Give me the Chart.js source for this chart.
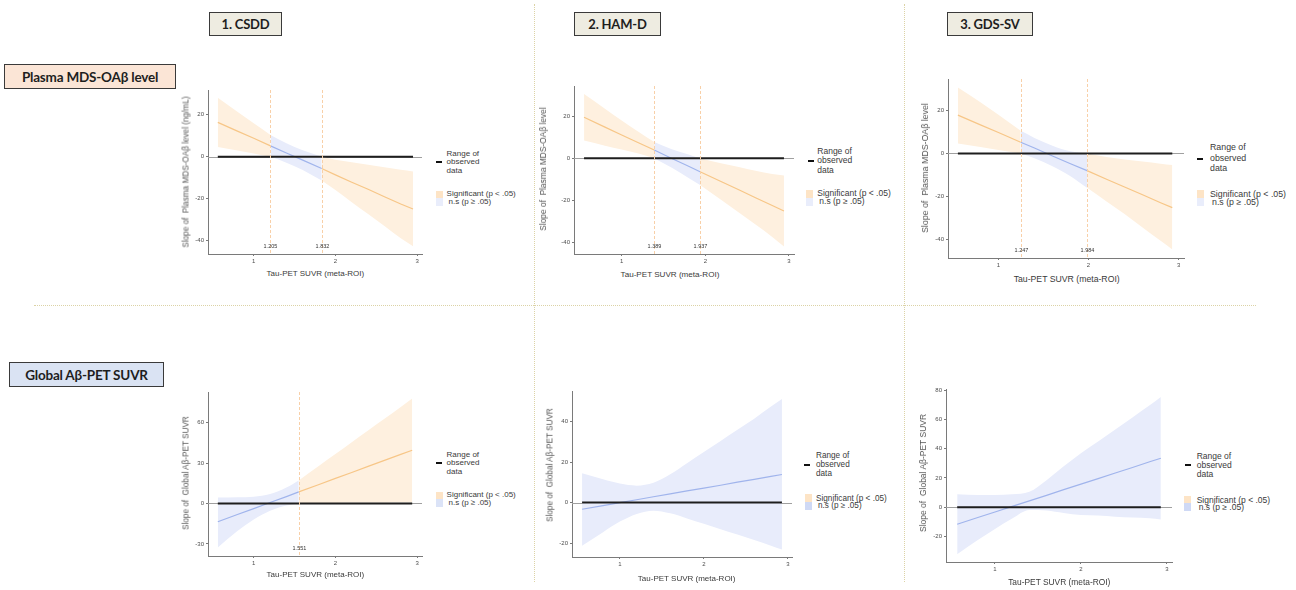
<!DOCTYPE html>
<html>
<head>
<meta charset="utf-8">
<title>Johnson-Neyman plots</title>
<script src="https://cdn.jsdelivr.net/npm/chart.js@4.4.1/dist/chart.umd.min.js"></script>
<style>
  body { margin: 0; background: #fff; }
  #page { position: relative; width: 1296px; height: 590px; overflow: hidden; font-family: "Liberation Sans", Arial, sans-serif; color: #333; }
  #page canvas { position: absolute; }
  .box { position: absolute; box-sizing: border-box; border: 1.5px solid #3a3a3a; display: flex; align-items: center; justify-content: center; font-family: Lato, "Open Sans", sans-serif; font-weight: 700; color: #1e1e1e; white-space: nowrap; letter-spacing: -0.2px; }
  .txt { position: absolute; white-space: nowrap; color: #3a3a3a; font-weight: 400; }
  .ytitle { color: #555; }
  .sep-v { position: absolute; width: 0; border-left: 1px dotted #dcd3a6; }
  .sep-h { position: absolute; height: 0; border-top: 1px dotted #dcd3a6; }
</style>
</head>
<body>
<div id="page">
  <div class="sep-v" style="left:534px;top:4px;height:578px"></div>
  <div class="sep-v" style="left:904px;top:4px;height:578px"></div>
  <div class="sep-h" style="left:34px;top:305px;width:1222px"></div>

  <div class="box" style="left:209px;top:12px;width:73px;height:24px;background:#eeece1;font-size:13px">1. CSDD</div>
  <div class="box" style="left:574px;top:12px;width:87px;height:24px;background:#eeece1;font-size:13px">2. HAM-D</div>
  <div class="box" style="left:947px;top:12px;width:86px;height:24px;background:#eeece1;font-size:13px">3. GDS-SV</div>
  <div class="box" style="left:4px;top:64px;width:172px;height:25px;background:#fbe5d6;font-size:13.5px">Plasma MDS-OAβ level</div>
  <div class="box" style="left:9px;top:362px;width:155px;height:25px;background:#dae3f3;font-size:13.5px">Global Aβ-PET SUVR</div>
</div>
<script>
// slopes (estimate, upper and lower 95% band) at a few tau values
const xTicks = [1, 2, 3];

// row 1: plasma MDS-OAb level
const mdsCsddTau   = [0.56, 0.8, 1.0, 1.205, 1.4, 1.6, 1.832, 2.0, 2.2, 2.4, 2.6, 2.8, 2.95];
const mdsCsddSlope = [16.4, 12.2, 8.8, 5.2, 1.8, -1.6, -5.6, -8.6, -12.1, -15.5, -19.0, -22.5, -24.9];
const mdsCsddUpper = [28.1, 21.4, 16.0, 10.4, 6.4, 3.1, 0, -1.4, -2.6, -3.8, -5.0, -6.2, -7.0];
const mdsCsddLower = [4.6, 3.0, 1.6, 0, -2.8, -6.3, -11.3, -15.8, -21.6, -27.2, -33.0, -38.8, -42.6];
const mdsCsddJN    = [1.205, 1.832];

const mdsHamdTau   = [0.55, 0.8, 1.0, 1.2, 1.389, 1.6, 1.8, 1.937, 2.2, 2.4, 2.6, 2.8, 2.94];
const mdsHamdSlope = [19.5, 14.8, 11.1, 7.4, 3.9, -0.1, -3.8, -6.4, -11.3, -15.0, -18.8, -22.5, -25.1];
const mdsHamdUpper = [30.6, 23.6, 18.0, 12.6, 7.7, 4.3, 1.8, 0, -2.5, -4.2, -6.0, -7.5, -8.2];
const mdsHamdLower = [8.4, 6.0, 4.2, 2.2, 0, -4.5, -9.4, -12.8, -20.1, -25.8, -31.6, -37.5, -42.0];
const mdsHamdJN    = [1.389, 1.937];

const mdsGdsTau    = [0.55, 0.8, 1.0, 1.247, 1.4, 1.6, 1.8, 1.984, 2.2, 2.4, 2.6, 2.8, 2.93];
const mdsGdsSlope  = [17.8, 13.3, 9.7, 5.2, 2.5, -1.2, -4.8, -8.0, -12.0, -15.6, -19.2, -22.9, -25.2];
const mdsGdsUpper  = [30.7, 23.8, 18.0, 10.5, 7.2, 3.6, 1.0, 0, -1.6, -2.8, -3.8, -4.8, -5.4];
const mdsGdsLower  = [4.6, 3.0, 1.6, 0, -2.2, -6.0, -10.6, -16.0, -22.3, -28.2, -34.4, -40.6, -44.6];
const mdsGdsJN     = [1.247, 1.984];

// row 2: global Ab-PET SUVR
const petCsddTau   = [0.56, 0.8, 1.0, 1.2, 1.4, 1.551, 1.8, 2.0, 2.2, 2.4, 2.6, 2.8, 2.94];
const petCsddSlope = [-13.6, -8.2, -3.8, 0.7, 5.1, 8.6, 14.1, 18.6, 23.0, 27.5, 32.0, 36.4, 39.5];
const petCsddUpper = [4.4, 4.6, 5.0, 7.0, 11.8, 17.0, 27.9, 36.6, 45.4, 54.1, 62.8, 71.6, 77.8];
const petCsddLower = [-32.6, -20.5, -12.0, -5.5, -1.6, 0, 0.3, 0.4, 0.5, 0.5, 0.6, 0.7, 0.7];
const petCsddJN    = [1.551];

const petHamdTau   = [0.55, 0.8, 1.0, 1.2, 1.4, 1.6, 1.8, 2.0, 2.2, 2.4, 2.6, 2.8, 2.93];
const petHamdSlope = [-3.3, -1.5, 0.0, 1.4, 2.9, 4.3, 5.8, 7.2, 8.6, 10.1, 11.5, 13.0, 13.9];
const petHamdUpper = [14.5, 11.5, 9.4, 8.4, 9.8, 14.0, 19.5, 25.0, 30.5, 36.0, 41.5, 47.5, 51.2];
const petHamdLower = [-21.3, -14.6, -9.4, -5.6, -4.0, -5.3, -7.8, -10.5, -13.2, -15.8, -18.5, -21.3, -23.2];
const petHamdJN    = [];

const petGdsTau    = [0.56, 0.8, 1.0, 1.2, 1.4, 1.6, 1.8, 2.0, 2.2, 2.4, 2.6, 2.8, 2.93];
const petGdsSlope  = [-11.7, -7.1, -3.3, 0.5, 4.3, 8.1, 12.0, 15.8, 19.6, 23.4, 27.2, 31.1, 33.5];
const petGdsUpper  = [8.9, 8.4, 8.3, 8.8, 10.5, 18.5, 28.0, 37.0, 45.0, 53.3, 61.5, 69.8, 75.5];
const petGdsLower  = [-32.3, -22.6, -14.9, -7.8, -1.9, -2.3, -4.0, -5.4, -5.8, -6.5, -7.1, -7.6, -8.5];
const petGdsJN     = [];

const SIG = { band: '#fef0df', line: '#f7c687' };
const NS = { band: '#e8ecfb', line: '#a0b4ec' };
const AXIS = '#7a7a7a';
const FONT = '"Liberation Sans", Arial, sans-serif';

// geometry of each plot area on the page: [left, top, right, bottom]
const panels = [
  { area: [208, 90, 422, 254], x: [0.44, 3.06], y: [-46.3, 31.8], yTicks: [-40, -20, 0, 20],
    tau: mdsCsddTau, slope: mdsCsddSlope, upper: mdsCsddUpper, lower: mdsCsddLower, jn: mdsCsddJN, sig: [true, false, true],
    leg: { dx: 435.6, dy: 162.3, tx: 446.6, ty: 154, lh: 8.5, fs: 8, sx: 435.6, sy: 194.7, ny: 202.3, ns: '#e9edfb' },
    xt: [315.4, 273.3, 8], yt: [186, 172, 8.2, 'Slope of&nbsp; Plasma MDS-OAβ level (ng/mL)'] },
  { area: [574, 86, 794, 254], x: [0.43, 3.06], y: [-45.6, 34.4], yTicks: [-40, -20, 0, 20],
    tau: mdsHamdTau, slope: mdsHamdSlope, upper: mdsHamdUpper, lower: mdsHamdLower, jn: mdsHamdJN, sig: [true, false, true],
    leg: { dx: 808.3, dy: 160.7, tx: 817.3, ty: 151.7, lh: 9.2, fs: 8.5, sx: 805.7, sy: 193.7, ny: 201.7, ns: '#e9edfb' },
    xt: [670, 274.3, 8.1], yt: [543.3, 169, 8.4, 'Slope of&nbsp; Plasma MDS-OAβ level'] },
  { area: [948, 79, 1184, 258], x: [0.44, 3.06], y: [-48.6, 34.6], yTicks: [-40, -20, 0, 20],
    tau: mdsGdsTau, slope: mdsGdsSlope, upper: mdsGdsUpper, lower: mdsGdsLower, jn: mdsGdsJN, sig: [true, false, true],
    leg: { dx: 1196.7, dy: 159.3, tx: 1210, ty: 147.7, lh: 10.5, fs: 8.8, sx: 1197, sy: 194.3, ny: 202, ns: '#e9edfb' },
    xt: [1066.7, 279.3, 8.7], yt: [925, 167.5, 8.8, 'Slope of&nbsp; Plasma MDS-OAβ level'] },
  { area: [208, 392, 422, 556], x: [0.44, 3.06], y: [-39, 82.7], yTicks: [-30, 0, 30, 60],
    tau: petCsddTau, slope: petCsddSlope, upper: petCsddUpper, lower: petCsddLower, jn: petCsddJN, sig: [false, true],
    leg: { dx: 435.6, dy: 463.3, tx: 446.6, ty: 455, lh: 8.5, fs: 8, sx: 435.6, sy: 495.7, ny: 503.3, ns: '#dbe3f7' },
    xt: [315.4, 574.3, 8], yt: [186, 473, 8.2, 'Slope of&nbsp; Global Aβ-PET SUVR'] },
  { area: [572, 391, 792, 557], x: [0.43, 3.05], y: [-26.9, 55.2], yTicks: [-20, 0, 20, 40],
    tau: petHamdTau, slope: petHamdSlope, upper: petHamdUpper, lower: petHamdLower, jn: petHamdJN, sig: [false],
    leg: { dx: 804, dy: 464.7, tx: 816, ty: 455.7, lh: 9, fs: 8.2, sx: 805.3, sy: 498, ny: 505.7, ns: '#cfd9f5' },
    xt: [686.7, 578.3, 8], yt: [550, 464.7, 8.2, 'Slope of&nbsp; Global Aβ-PET SUVR'] },
  { area: [946, 389, 1172, 562], x: [0.43, 3.06], y: [-37.6, 81], yTicks: [-20, 0, 20, 40, 60, 80],
    tau: petGdsTau, slope: petGdsSlope, upper: petGdsUpper, lower: petGdsLower, jn: petGdsJN, sig: [false],
    leg: { dx: 1185, dy: 465.3, tx: 1196.7, ty: 456.7, lh: 9, fs: 8.5, sx: 1184.3, sy: 500, ny: 507.3, ns: '#cfd9f5' },
    xt: [1059.3, 582.3, 8.4], yt: [923.3, 473, 8.5, 'Slope of&nbsp; Global Aβ-PET SUVR'] }
];

const page = document.getElementById('page');
const YW = 30, XH = 14, PT = 8, PR = 8;

function addDiv(html, css, cls) {
  const d = document.createElement('div');
  d.className = cls || 'txt';
  d.innerHTML = html;
  Object.assign(d.style, css);
  page.appendChild(d);
  return d;
}

// zero reference line, J-N cut points and their labels
const jnLines = {
  id: 'jnLines',
  beforeDatasetsDraw(chart) {
    const { ctx, chartArea: a, scales: { y } } = chart;
    const y0 = Math.round(y.getPixelForValue(0)) + 0.5;
    ctx.save();
    ctx.strokeStyle = '#a0a0a0';
    ctx.lineWidth = 1;
    ctx.beginPath(); ctx.moveTo(a.left, y0); ctx.lineTo(a.right, y0); ctx.stroke();
    ctx.restore();
  },
  afterDatasetsDraw(chart, args, opts) {
    const { ctx, chartArea: a, scales: { x } } = chart;
    ctx.save();
    ctx.strokeStyle = '#f8d0a8';
    ctx.lineWidth = 1;
    ctx.setLineDash([3, 2]);
    ctx.font = '5.5px ' + FONT;
    ctx.fillStyle = '#333';
    ctx.textAlign = 'center';
    ctx.textBaseline = 'middle';
    for (const v of opts.points) {
      const px = Math.round(x.getPixelForValue(v)) + 0.5;
      ctx.beginPath(); ctx.moveTo(px, a.top); ctx.lineTo(px, a.bottom); ctx.stroke();
      ctx.fillText(v.toFixed(3), px, a.bottom - 7.5);
    }
    ctx.restore();
  }
};

function buildDatasets(p) {
  const cuts = [0, ...p.jn.map(v => p.tau.indexOf(v)), p.tau.length - 1];
  const sets = [];
  for (let r = 0; r < cuts.length - 1; r++) {
    const idx = [];
    for (let i = cuts[r]; i <= cuts[r + 1]; i++) idx.push(i);
    const pts = arr => idx.map(i => ({ x: p.tau[i], y: arr[i] }));
    const col = p.sig[r] ? SIG : NS;
    sets.push({ data: pts(p.lower), borderColor: 'rgba(0,0,0,0)', borderWidth: 0, fill: false, order: 5, cubicInterpolationMode: 'monotone' });
    sets.push({ data: pts(p.upper), borderColor: 'rgba(0,0,0,0)', borderWidth: 0, fill: '-1', backgroundColor: col.band, order: 5, cubicInterpolationMode: 'monotone' });
    sets.push({ data: pts(p.slope), borderColor: col.line, borderWidth: 1.2, fill: false, order: 3 });
  }
  // range of observed data
  const last = p.tau.length - 1;
  sets.push({ data: [{ x: p.tau[0], y: 0 }, { x: p.tau[last], y: 0 }], borderColor: '#1e1e1e', borderWidth: 2, fill: false, order: 1 });
  return sets;
}

function axis(range, ticks, fit) {
  return {
    type: 'linear', min: range[0], max: range[1],
    afterBuildTicks: s => { s.ticks = ticks.map(v => ({ value: v })); },
    afterFit: fit,
    grid: { drawOnChartArea: false, drawTicks: true, tickLength: 2, color: AXIS },
    border: { display: true, color: AXIS, width: 1 },
    ticks: { font: { size: 6, family: FONT }, color: '#4d4d4d', padding: 2, maxRotation: 0, autoSkip: false, callback: v => String(v) }
  };
}

panels.forEach(p => {
  const [L, T, R, B] = p.area;
  const cv = document.createElement('canvas');
  const w = (R - L) + YW + PR, h = (B - T) + PT + XH;
  cv.width = w; cv.height = h;
  cv.style.left = (L - YW) + 'px'; cv.style.top = (T - PT) + 'px';
  cv.style.width = w + 'px'; cv.style.height = h + 'px';
  page.appendChild(cv);

  new Chart(cv, {
    type: 'line',
    data: { datasets: buildDatasets(p) },
    options: {
      responsive: false, animation: false, events: [],
      layout: { padding: { top: PT, right: PR, left: 0, bottom: 0 } },
      elements: { point: { radius: 0 }, line: { tension: 0 } },
      plugins: { legend: { display: false }, tooltip: { enabled: false }, jnLines: { points: p.jn } },
      scales: {
        x: axis(p.x, xTicks, s => { s.height = XH; }),
        y: axis(p.y, p.yTicks, s => { s.width = YW; })
      }
    },
    plugins: [jnLines]
  });

  // axis titles
  addDiv('Tau-PET SUVR (meta-ROI)', { left: p.xt[0] + 'px', top: p.xt[1] + 'px', fontSize: p.xt[2] + 'px', transform: 'translate(-50%,-50%)' });
  addDiv(p.yt[3], { left: p.yt[0] + 'px', top: p.yt[1] + 'px', fontSize: p.yt[2] + 'px', transform: 'translate(-50%,-50%) rotate(-90deg)' }, 'txt ytitle');

  // legend
  const g = p.leg;
  addDiv('', { left: g.dx + 'px', top: (g.dy - 1) + 'px', width: '6px', height: '2px', background: '#111' });
  addDiv('Range of<br>observed<br>data', { left: g.tx + 'px', top: (g.ty - g.lh / 2) + 'px', lineHeight: g.lh + 'px', fontSize: g.fs + 'px' });
  addDiv('', { left: g.sx + 'px', top: (g.sy - 4) + 'px', width: '7px', height: '8px', background: '#fde4c6' });
  addDiv('', { left: g.sx + 'px', top: (g.ny - 4) + 'px', width: '7px', height: '8px', background: g.ns });
  addDiv('Significant (p &lt; .05)', { left: g.tx + 'px', top: (g.sy - g.lh / 2) + 'px', lineHeight: g.lh + 'px', fontSize: g.fs + 'px' });
  addDiv('n.s (p ≥ .05)', { left: (g.tx + 2) + 'px', top: (g.ny - g.lh / 2) + 'px', lineHeight: g.lh + 'px', fontSize: g.fs + 'px' });
});
</script>
</body>
</html>
